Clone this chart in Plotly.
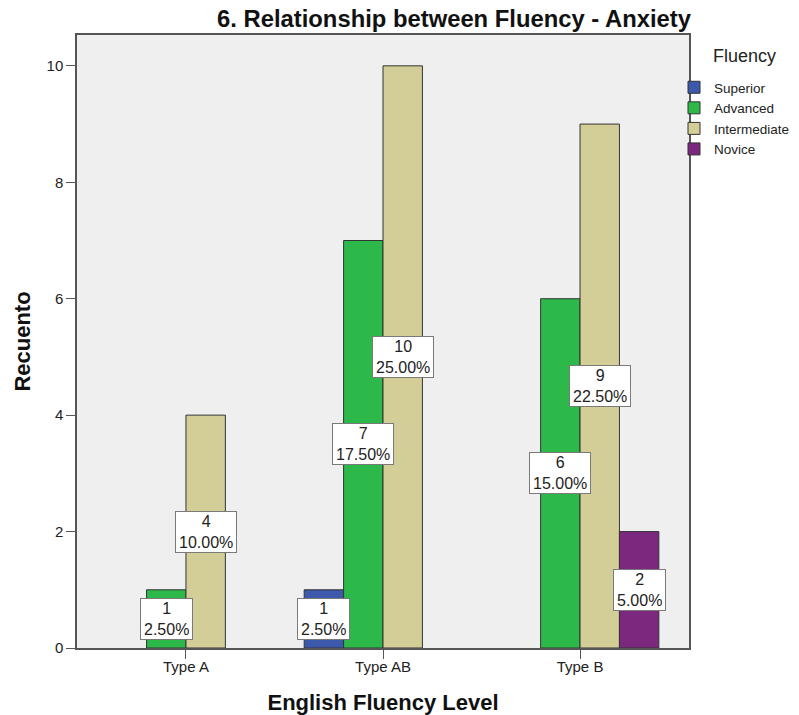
import plotly.graph_objects as go

categories = ["Type A", "Type AB", "Type B"]
fluency_levels = ["Superior", "Advanced", "Intermediate", "Novice"]
counts = {
    "Superior": [0, 1, 0],
    "Advanced": [1, 7, 6],
    "Intermediate": [4, 10, 9],
    "Novice": [0, 0, 2],
}
total = 40
colors = {
    "Superior": "#3D59AB",
    "Advanced": "#2DB84A",
    "Intermediate": "#D3CE98",
    "Novice": "#7B287E",
}

FONT = "Liberation Sans, Arial, sans-serif"

W, H = 799, 715
ML, MR, MT, MB = 77, 110, 35, 67
PW, PH = W - ML - MR, H - MT - MB

fig = go.Figure()
for name in fluency_levels:
    fig.add_trace(go.Bar(
        x=list(range(len(categories))),
        y=[v if v else None for v in counts[name]],
        name=name,
        marker=dict(color=colors[name], line=dict(color="#333333", width=1)),
    ))

# value boxes, centred on each bar at half height
n = len(fluency_levels)
slot = 0.8 / n
for i, name in enumerate(fluency_levels):
    for j, v in enumerate(counts[name]):
        if v == 0:
            continue
        xpos = j - 0.4 + slot * (i + 0.5)
        fig.add_annotation(
            x=xpos, y=v / 2, xref="x", yref="y",
            text=f"{v}<br>{v / total * 100:.2f}%",
            showarrow=False,
            font=dict(family=FONT, size=16, color="#222222"),
            bgcolor="white", bordercolor="#7a7a7a", borderwidth=1, borderpad=3,
            height=34,
        )

# legend heading
fig.add_annotation(
    x=(711 - ML) / PW, y=(H - MB - 56) / PH, xref="paper", yref="paper",
    xanchor="left", yanchor="middle",
    text="Fluency", showarrow=False,
    font=dict(family=FONT, size=18, color="#222222"),
)

fig.update_layout(
    width=W, height=H,
    margin=dict(l=ML, r=MR, t=MT, b=MB, autoexpand=False),
    barmode="group", bargap=0.2, bargroupgap=0,
    plot_bgcolor="#EFEFEF", paper_bgcolor="white",
    font=dict(family=FONT, size=15, color="#222222"),
    title=dict(
        text="<b>6. Relationship between Fluency - Anxiety</b>",
        x=454 / W, xanchor="center", y=1 - 19 / H, yanchor="middle",
        font=dict(family=FONT, size=23.8, color="#111111"),
    ),
    xaxis=dict(
        tickmode="array", tickvals=list(range(len(categories))), ticktext=categories,
        range=[-0.553, 2.553], showgrid=False, zeroline=False,
        showline=True, linecolor="#555555", linewidth=1.5, mirror=True,
        ticks="outside", ticklen=9, tickcolor="#555555", ticklabelstandoff=-5,
        tickfont=dict(size=15, color="#222222"),
        title=dict(text="<b>English Fluency Level</b>", font=dict(size=22, color="#111111"), standoff=22),
    ),
    yaxis=dict(
        range=[0, 10.53], tickvals=[0, 2, 4, 6, 8, 10], showgrid=False, zeroline=False,
        showline=True, linecolor="#555555", linewidth=1.5, mirror=True,
        ticks="outside", ticklen=9, tickcolor="#555555",
        tickfont=dict(size=15, color="#222222"),
        title=dict(text="<b>Recuento</b>", font=dict(size=22, color="#111111"), standoff=10),
    ),
    legend=dict(
        x=(674 - ML) / PW, y=(H - MB - 72) / PH, xanchor="left", yanchor="top",
        font=dict(size=13.5, color="#222222"), tracegroupgap=0, itemwidth=30,
        bgcolor="rgba(0,0,0,0)",
    ),
)

# drop the browser's default 8px body margin so the figure fills the window
fig.write_html(
    "out.html",
    config={"displayModeBar": False},
    post_script="document.body.style.margin = '0';",
)
